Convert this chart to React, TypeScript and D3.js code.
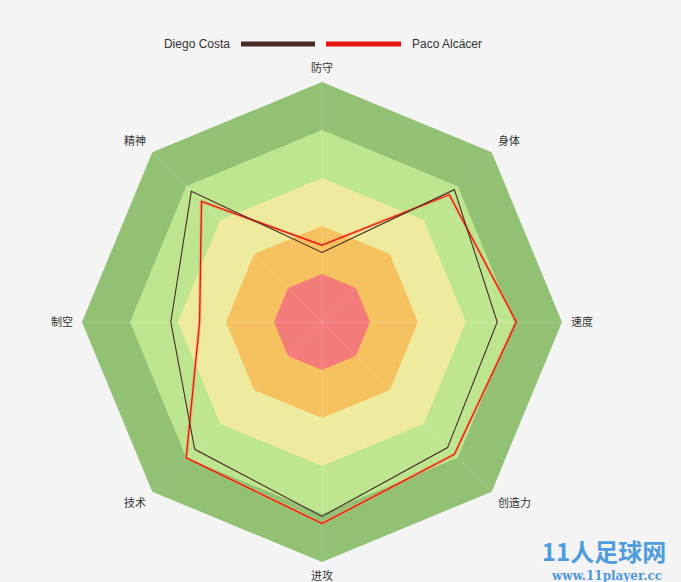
import React from "react";
import * as d3 from "d3";

const axes = ["防守", "身体", "速度", "创造力", "进攻", "技术", "制空", "精神"];
const diegoCosta = [29, 78, 73, 74, 81, 75, 63, 77];
const pacoAlcacer = [32, 75, 81, 78, 84, 80, 51, 71];
const seriesNames = ["Diego Costa", "Paco Alcácer"];
const seriesColors = ["#4b2a25", "#e5140f"];
const bandLevels = [100, 80, 60, 40, 20];
const bandColors = ["#92c174", "#bee691", "#efeb9e", "#f6c25f", "#f37b79"];

const W = 681, H = 582;
const cx = 322, cy = 322, R = 240;

export default function App() {
  const r = d3.scaleLinear().domain([0, 100]).range([0, R]);
  const n = axes.length;
  const ang = (i: number) => (i * 2 * Math.PI) / n;
  const radial = d3.lineRadial<number>()
    .angle((_, i) => ang(i))
    .radius((d) => r(d))
    .curve(d3.curveLinearClosed);
  const full = (v: number) => axes.map(() => v);
  const labelR = R + 9;
  return (
    <svg width={W} height={H} style={{ position: "absolute", left: 0, top: 0, background: "#f4f4f4", fontFamily: "'Liberation Sans', Arial, sans-serif" }}>
      <rect x={0} y={0} width={W} height={H} fill="#f4f4f4" />
      <g transform={`translate(${cx},${cy})`}>
        {bandLevels.map((lv, k) => (
          <path key={k} d={radial(full(lv)) || ""} fill={bandColors[k]} />
        ))}
        {axes.map((_, i) => (
          <line key={i} x1={0} y1={0} x2={r(100) * Math.sin(ang(i))} y2={-r(100) * Math.cos(ang(i))} stroke="#ffffff" strokeOpacity={0.18} strokeWidth={1} />
        ))}
        <path d={radial(pacoAlcacer) || ""} fill="none" stroke="#f59a5a" strokeOpacity={0.5} strokeWidth={3.5} strokeLinejoin="miter" />
        <path d={radial(pacoAlcacer) || ""} fill="none" stroke={seriesColors[1]} strokeWidth={1.3} />
        <path d={radial(diegoCosta) || ""} fill="none" stroke={seriesColors[0]} strokeWidth={1.1} />
        {axes.map((name, i) => {
          const a = ang(i);
          const s = Math.sin(a), c = Math.cos(a);
          const x = labelR * s;
          const y = -labelR * c;
          const anchor = Math.abs(s) < 0.01 ? "middle" : s > 0 ? "start" : "end";
          const dy = Math.abs(c) < 0.01 ? "0.35em" : c > 0 ? "-0.1em" : "0.85em";
          return (
            <text key={name} x={x} y={y} dy={dy} textAnchor={anchor} fontSize={11} fill="#333" fontFamily="'Noto Sans CJK SC', sans-serif">
              {name}
            </text>
          );
        })}
      </g>
      <g>
        <text x={230} y={48} textAnchor="end" fontSize={12} fill="#333">{seriesNames[0]}</text>
        <rect x={241} y={41.5} width={74} height={5} fill={seriesColors[0]} />
        <rect x={326} y={41.5} width={75} height={5} fill={seriesColors[1]} />
        <text x={412} y={48} fontSize={12} fill="#333">{seriesNames[1]}</text>
      </g>
      <g>
        <text x={604} y={561} textAnchor="middle" fontSize={24} fontWeight="bold" fill="#3d93dc" fontFamily="'Noto Sans CJK SC', sans-serif" opacity={0.9}>11人足球网</text>
        <text x={607} y={580} textAnchor="middle" fontSize={12} fontWeight="bold" fill="#3d8fd6" fontFamily="'DejaVu Serif', serif" opacity={0.9}>www.11player.cc</text>
      </g>
    </svg>
  );
}
